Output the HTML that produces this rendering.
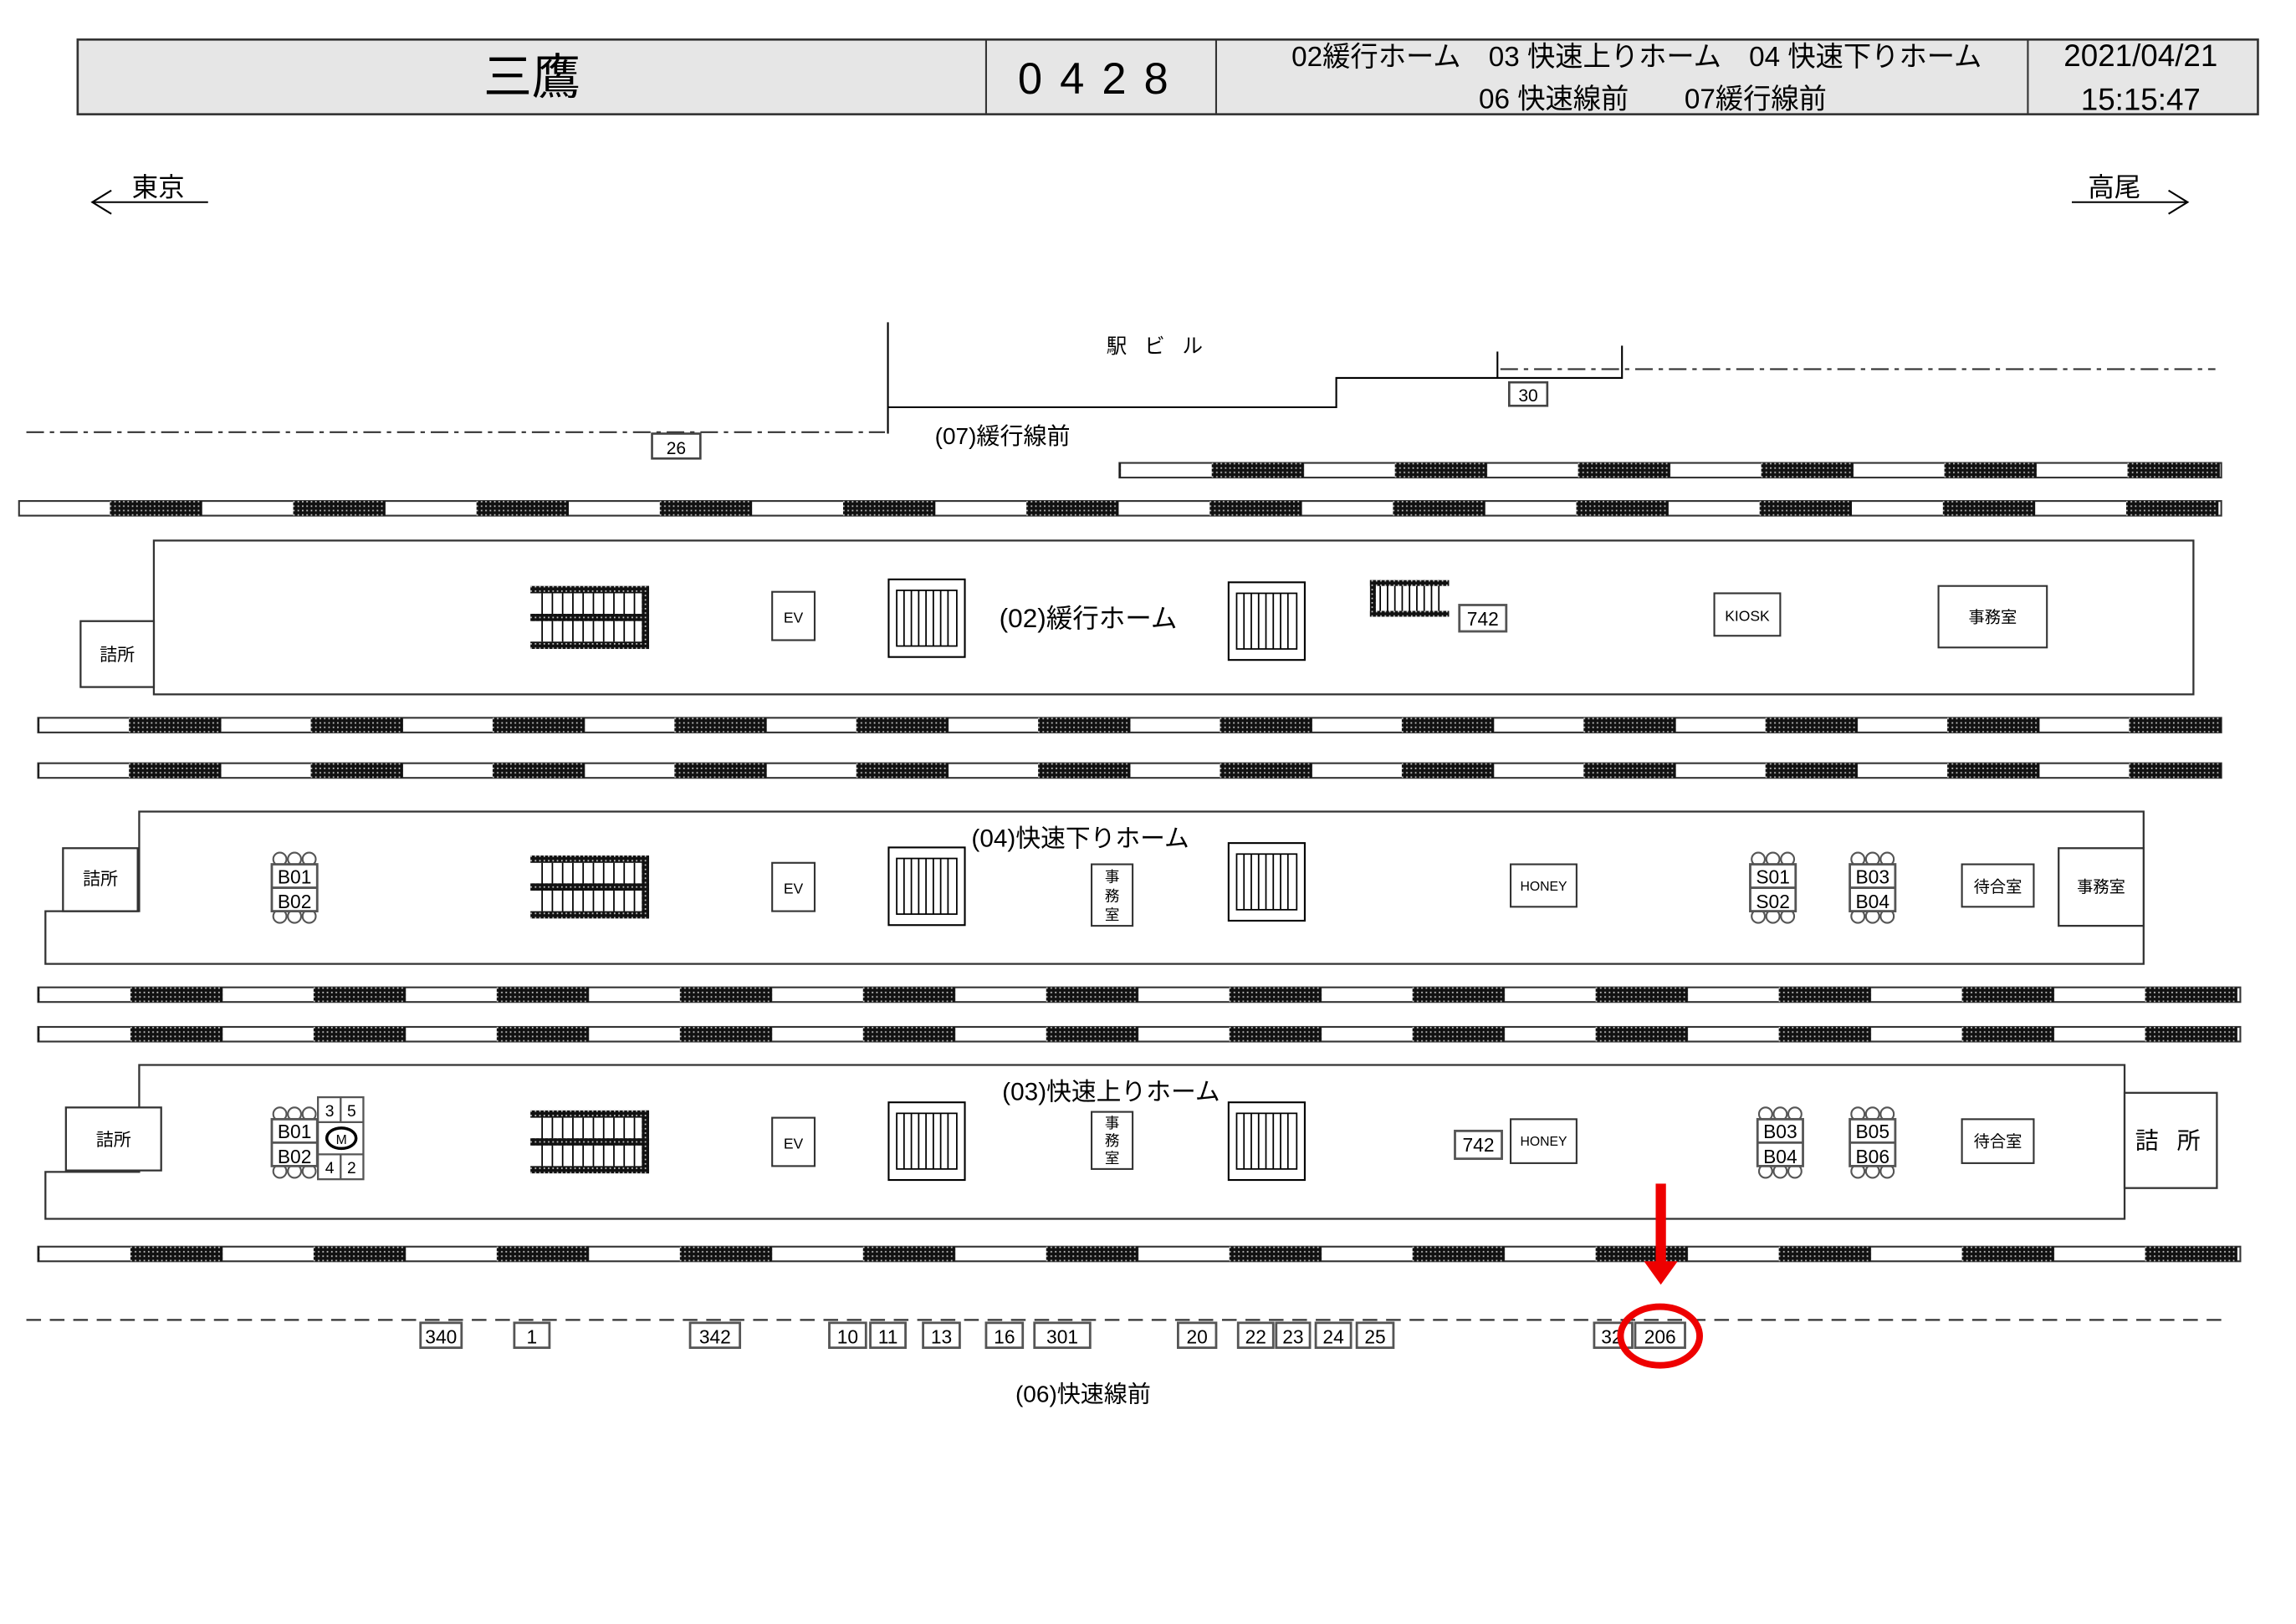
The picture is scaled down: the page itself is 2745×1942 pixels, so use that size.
<!DOCTYPE html>
<html><head><meta charset="utf-8">
<style>
html,body{margin:0;padding:0;background:#fff;}
svg{display:block;}
text{font-family:"Liberation Sans","Noto Sans CJK JP",sans-serif;fill:#000;}
</style></head>
<body>
<svg width="2745" height="1942" viewBox="0 0 1567 1108.6" preserveAspectRatio="none" xmlns="http://www.w3.org/2000/svg">
<defs>
  <pattern id="chk" width="3" height="3" patternUnits="userSpaceOnUse">
    <rect width="3" height="3" fill="#111"/><rect width="1" height="1" fill="#ccc"/>
  </pattern>
  <g id="esc">
    <rect x="0" y="0" width="81" height="43" fill="#fff"/>
    <g stroke="#000" stroke-width="1">
      <line x1="8" y1="5" x2="8" y2="38"/><line x1="15" y1="5" x2="15" y2="38"/><line x1="22" y1="5" x2="22" y2="38"/>
      <line x1="29" y1="5" x2="29" y2="38"/><line x1="36" y1="5" x2="36" y2="38"/><line x1="43" y1="5" x2="43" y2="38"/>
      <line x1="50" y1="5" x2="50" y2="38"/><line x1="57" y1="5" x2="57" y2="38"/><line x1="64" y1="5" x2="64" y2="38"/>
      <line x1="71" y1="5" x2="71" y2="38"/>
    </g>
    <rect x="0" y="0" width="81" height="5" fill="url(#chk)"/>
    <rect x="0" y="19" width="81" height="5" fill="url(#chk)"/>
    <rect x="0" y="38" width="81" height="5" fill="url(#chk)"/>
    <rect x="76" y="0" width="5" height="43" fill="url(#chk)"/>
  </g>
  <g id="stair">
    <rect x="0.5" y="0.5" width="52" height="53" fill="#fff" stroke="#000" stroke-width="1.2"/>
    <rect x="6" y="8" width="41" height="38" fill="#fff" stroke="#000" stroke-width="1"/>
    <g stroke="#000" stroke-width="1">
      <line x1="11" y1="8" x2="11" y2="46"/><line x1="16" y1="8" x2="16" y2="46"/><line x1="21" y1="8" x2="21" y2="46"/>
      <line x1="26" y1="8" x2="26" y2="46"/><line x1="31" y1="8" x2="31" y2="46"/><line x1="36" y1="8" x2="36" y2="46"/>
      <line x1="41" y1="8" x2="41" y2="46"/>
    </g>
  </g>
  <g id="bench" fill="#fff" stroke="#555" stroke-width="1.2">
    <circle cx="6" cy="3.5" r="4.5"/><circle cx="16" cy="3.5" r="4.5"/><circle cx="26" cy="3.5" r="4.5"/>
    <circle cx="6" cy="42.5" r="4.5"/><circle cx="16" cy="42.5" r="4.5"/><circle cx="26" cy="42.5" r="4.5"/>
    <rect x="0.5" y="7" width="31" height="32" stroke-width="1.6"/>
    <line x1="0.5" y1="23" x2="31.5" y2="23" stroke-width="1.6"/>
  </g>
</defs>

<!-- Header -->
<rect x="53" y="27" width="1488" height="51" fill="#e6e6e6" stroke="#333" stroke-width="1.5"/>
<line x1="673" y1="27" x2="673" y2="78" stroke="#333" stroke-width="1.2"/>
<line x1="830" y1="27" x2="830" y2="78" stroke="#333" stroke-width="1.2"/>
<line x1="1384" y1="27" x2="1384" y2="78" stroke="#333" stroke-width="1.2"/>
<text x="363" y="64" font-size="33" text-anchor="middle">三鷹</text>
<text x="752" y="64" font-size="30" text-anchor="middle" letter-spacing="12">0428</text>
<text x="1117" y="45" font-size="19" text-anchor="middle">02緩行ホーム　03 快速上りホーム　04 快速下りホーム</text>
<text x="1128" y="74" font-size="19" text-anchor="middle">06 快速線前　　07緩行線前</text>
<text x="1461" y="45" font-size="21" text-anchor="middle">2021/04/21</text>
<text x="1461" y="75" font-size="21" text-anchor="middle">15:15:47</text>

<!-- Direction arrows -->
<g stroke="#000" stroke-width="1.2" fill="none">
  <line x1="63" y1="138" x2="142" y2="138"/><polyline points="76,130 63,138 76,146"/>
  <line x1="1414" y1="138" x2="1493" y2="138"/><polyline points="1480,130 1493,138 1480,146"/>
</g>
<text x="90" y="134" font-size="18">東京</text>
<text x="1425" y="134" font-size="18">高尾</text>

<!-- Station building -->
<g stroke="#000" stroke-width="1.2" fill="none">
  <polyline points="606,220 606,278 912,278 912,258 1107,258 1107,236"/>
  <line x1="606" y1="278" x2="606" y2="296"/>
  <line x1="1022" y1="240" x2="1022" y2="258"/>
</g>
<text x="790" y="241" font-size="14" text-anchor="middle" letter-spacing="4">駅 ビ ル</text>
<g stroke="#333" stroke-width="1.2" stroke-dasharray="12,4,3,4" fill="none">
  <line x1="18" y1="295" x2="604" y2="295"/>
  <line x1="1024" y1="252" x2="1512" y2="252"/>
</g>
<rect x="445" y="296" width="33" height="17" fill="#fff" stroke="#444" stroke-width="1.5"/>
<text x="461.5" y="310" font-size="12" text-anchor="middle">26</text>
<rect x="1030" y="261" width="26" height="16" fill="#fff" stroke="#444" stroke-width="1.5"/>
<text x="1043" y="274" font-size="12" text-anchor="middle">30</text>
<text x="638" y="303" font-size="16">(07)緩行線前</text>

<!-- Tracks -->
<defs>
  <pattern id="tA" x="827" y="316" width="125" height="10" patternUnits="userSpaceOnUse"><rect width="63" height="10" fill="url(#chk)"/></pattern>
  <pattern id="tB" x="75" y="342" width="125.1" height="10" patternUnits="userSpaceOnUse"><rect width="63" height="10" fill="url(#chk)"/></pattern>
  <pattern id="tC" x="88" y="490" width="124.1" height="10" patternUnits="userSpaceOnUse"><rect width="63" height="10" fill="url(#chk)"/></pattern>
  <pattern id="tD" x="88" y="521" width="124.1" height="10" patternUnits="userSpaceOnUse"><rect width="63" height="10" fill="url(#chk)"/></pattern>
  <pattern id="tE" x="89" y="674" width="125" height="10" patternUnits="userSpaceOnUse"><rect width="63" height="10" fill="url(#chk)"/></pattern>
  <pattern id="tF" x="89" y="701" width="125" height="10" patternUnits="userSpaceOnUse"><rect width="63" height="10" fill="url(#chk)"/></pattern>
  <pattern id="tG" x="89" y="851" width="125" height="10" patternUnits="userSpaceOnUse"><rect width="63" height="10" fill="url(#chk)"/></pattern>
</defs>
<g stroke="#333" stroke-width="1.2">
  <rect x="764" y="316" width="752" height="10" fill="#fff"/><rect x="764" y="316" width="752" height="10" fill="url(#tA)" stroke="none"/>
  <rect x="13" y="342" width="1503" height="10" fill="#fff"/><rect x="13" y="342" width="1503" height="10" fill="url(#tB)" stroke="none"/>
  <rect x="26" y="490" width="1490" height="10" fill="#fff"/><rect x="26" y="490" width="1490" height="10" fill="url(#tC)" stroke="none"/>
  <rect x="26" y="521" width="1490" height="10" fill="#fff"/><rect x="26" y="521" width="1490" height="10" fill="url(#tD)" stroke="none"/>
  <rect x="26" y="674" width="1503" height="10" fill="#fff"/><rect x="26" y="674" width="1503" height="10" fill="url(#tE)" stroke="none"/>
  <rect x="26" y="701" width="1503" height="10" fill="#fff"/><rect x="26" y="701" width="1503" height="10" fill="url(#tF)" stroke="none"/>
  <rect x="26" y="851" width="1503" height="10" fill="#fff"/><rect x="26" y="851" width="1503" height="10" fill="url(#tG)" stroke="none"/>
</g>

<!-- Platform 02 -->
<rect x="105" y="369" width="1392" height="105" fill="#fff" stroke="#333" stroke-width="1.3"/>
<rect x="55" y="424" width="50" height="45" fill="#fff" stroke="#333" stroke-width="1.3"/>
<text x="80" y="451" font-size="12" text-anchor="middle">詰所</text>
<use href="#esc" x="362" y="400"/>
<rect x="527" y="404" width="29" height="33" fill="#fff" stroke="#333" stroke-width="1.2"/>
<text x="541.5" y="425" font-size="10" text-anchor="middle">EV</text>
<use href="#stair" x="606" y="395"/>
<text x="682" y="428" font-size="18">(02)緩行ホーム</text>
<use href="#stair" x="838" y="397"/>
<g>
  <rect x="935" y="396" width="54" height="25" fill="#fff"/>
  <g stroke="#000" stroke-width="1">
    <line x1="942" y1="396" x2="942" y2="421"/><line x1="947" y1="396" x2="947" y2="421"/><line x1="952" y1="396" x2="952" y2="421"/>
    <line x1="957" y1="396" x2="957" y2="421"/><line x1="962" y1="396" x2="962" y2="421"/><line x1="967" y1="396" x2="967" y2="421"/>
    <line x1="972" y1="396" x2="972" y2="421"/><line x1="977" y1="396" x2="977" y2="421"/><line x1="982" y1="396" x2="982" y2="421"/>
  </g>
  <rect x="935" y="396" width="54" height="4" fill="url(#chk)"/>
  <rect x="935" y="417" width="54" height="4" fill="url(#chk)"/>
  <rect x="935" y="396" width="4" height="25" fill="url(#chk)"/>
</g>
<rect x="996" y="413" width="32" height="18" fill="#fff" stroke="#555" stroke-width="1.6"/>
<text x="1012" y="427" font-size="13" text-anchor="middle">742</text>
<rect x="1170" y="405" width="45" height="29" fill="#fff" stroke="#333" stroke-width="1.2"/>
<text x="1192.5" y="424" font-size="10" text-anchor="middle">KIOSK</text>
<rect x="1323" y="400" width="74" height="42" fill="#fff" stroke="#333" stroke-width="1.2"/>
<text x="1360" y="425" font-size="11" text-anchor="middle">事務室</text>

<!-- Platform 04 -->
<path d="M95,554 H1463 V658 H31 V622 H95 Z" fill="#fff" stroke="#333" stroke-width="1.3"/>
<rect x="43" y="579" width="51" height="43" fill="#fff" stroke="#333" stroke-width="1.3"/>
<text x="68.5" y="604" font-size="12" text-anchor="middle">詰所</text>
<rect x="1405" y="579" width="58" height="53" fill="#fff" stroke="#333" stroke-width="1.3"/>
<text x="1434" y="609" font-size="11" text-anchor="middle">事務室</text>
<use href="#bench" x="185" y="583"/>
<text x="201" y="603" font-size="13" text-anchor="middle">B01</text>
<text x="201" y="620" font-size="13" text-anchor="middle">B02</text>
<use href="#esc" x="362" y="584"/>
<rect x="527" y="589" width="29" height="33" fill="#fff" stroke="#333" stroke-width="1.2"/>
<text x="541.5" y="610" font-size="10" text-anchor="middle">EV</text>
<use href="#stair" x="606" y="578"/>
<rect x="745" y="590" width="28" height="42" fill="#fff" stroke="#333" stroke-width="1.2"/>
<text x="759" y="602" font-size="10" text-anchor="middle">事</text>
<text x="759" y="615" font-size="10" text-anchor="middle">務</text>
<text x="759" y="628" font-size="10" text-anchor="middle">室</text>
<use href="#stair" x="838" y="575"/>
<text x="663" y="578" font-size="17">(04)快速下りホーム</text>
<rect x="1031" y="590" width="45" height="29" fill="#fff" stroke="#333" stroke-width="1.2"/>
<text x="1053.5" y="608" font-size="9" text-anchor="middle">HONEY</text>
<use href="#bench" x="1194" y="583"/>
<text x="1210" y="603" font-size="13" text-anchor="middle">S01</text>
<text x="1210" y="620" font-size="13" text-anchor="middle">S02</text>
<use href="#bench" x="1262" y="583"/>
<text x="1278" y="603" font-size="13" text-anchor="middle">B03</text>
<text x="1278" y="620" font-size="13" text-anchor="middle">B04</text>
<rect x="1339" y="590" width="49" height="29" fill="#fff" stroke="#333" stroke-width="1.2"/>
<text x="1363.5" y="609" font-size="11" text-anchor="middle">待合室</text>

<!-- Platform 03 -->
<path d="M95,727 H1450 V832 H31 V800 H95 Z" fill="#fff" stroke="#333" stroke-width="1.3"/>
<rect x="45" y="756" width="65" height="43" fill="#fff" stroke="#333" stroke-width="1.3"/>
<text x="77.5" y="782" font-size="12" text-anchor="middle">詰所</text>
<rect x="1450" y="746" width="63" height="65" fill="#fff" stroke="#333" stroke-width="1.3"/>
<text x="1481.5" y="784" font-size="16" text-anchor="middle" letter-spacing="4">詰 所</text>
<use href="#bench" x="185" y="757"/>
<text x="201" y="777" font-size="13" text-anchor="middle">B01</text>
<text x="201" y="794" font-size="13" text-anchor="middle">B02</text>
<g fill="#fff" stroke="#555" stroke-width="1.3">
  <rect x="217" y="749" width="31" height="56"/>
  <line x1="232.5" y1="749" x2="232.5" y2="766"/>
  <line x1="232.5" y1="788" x2="232.5" y2="805"/>
  <line x1="217" y1="766" x2="248" y2="766"/>
  <line x1="217" y1="788" x2="248" y2="788"/>
</g>
<ellipse cx="233" cy="777" rx="10" ry="7" fill="#fff" stroke="#000" stroke-width="2"/>
<text x="233" y="781" font-size="9" text-anchor="middle">M</text>
<text x="225" y="762" font-size="11" text-anchor="middle">3</text>
<text x="240" y="762" font-size="11" text-anchor="middle">5</text>
<text x="225" y="801" font-size="11" text-anchor="middle">4</text>
<text x="240" y="801" font-size="11" text-anchor="middle">2</text>
<use href="#esc" x="362" y="758"/>
<rect x="527" y="763" width="29" height="33" fill="#fff" stroke="#333" stroke-width="1.2"/>
<text x="541.5" y="784" font-size="10" text-anchor="middle">EV</text>
<use href="#stair" x="606" y="752"/>
<rect x="745" y="759" width="28" height="39" fill="#fff" stroke="#333" stroke-width="1.2"/>
<text x="759" y="770" font-size="10" text-anchor="middle">事</text>
<text x="759" y="782" font-size="10" text-anchor="middle">務</text>
<text x="759" y="794" font-size="10" text-anchor="middle">室</text>
<use href="#stair" x="838" y="752"/>
<text x="684" y="751" font-size="17">(03)快速上りホーム</text>
<rect x="993" y="772" width="32" height="19" fill="#fff" stroke="#555" stroke-width="1.6"/>
<text x="1009" y="786" font-size="13" text-anchor="middle">742</text>
<rect x="1031" y="764" width="45" height="30" fill="#fff" stroke="#333" stroke-width="1.2"/>
<text x="1053.5" y="782" font-size="9" text-anchor="middle">HONEY</text>
<use href="#bench" x="1199" y="757"/>
<text x="1215" y="777" font-size="13" text-anchor="middle">B03</text>
<text x="1215" y="794" font-size="13" text-anchor="middle">B04</text>
<use href="#bench" x="1262" y="757"/>
<text x="1278" y="777" font-size="13" text-anchor="middle">B05</text>
<text x="1278" y="794" font-size="13" text-anchor="middle">B06</text>
<rect x="1339" y="764" width="49" height="30" fill="#fff" stroke="#333" stroke-width="1.2"/>
<text x="1363.5" y="783" font-size="11" text-anchor="middle">待合室</text>

<!-- Bottom line -->
<line x1="18" y1="901" x2="1522" y2="901" stroke="#333" stroke-width="1.3" stroke-dasharray="10,6"/>
<g fill="#fff" stroke="#555" stroke-width="1.6">
  <rect x="287" y="903" width="28" height="17"/>
  <rect x="351" y="903" width="24" height="17"/>
  <rect x="471" y="903" width="34" height="17"/>
  <rect x="566" y="903" width="25" height="17"/>
  <rect x="594" y="903" width="24" height="17"/>
  <rect x="630" y="903" width="25" height="17"/>
  <rect x="673" y="903" width="25" height="17"/>
  <rect x="706" y="903" width="38" height="17"/>
  <rect x="804" y="903" width="26" height="17"/>
  <rect x="845" y="903" width="24" height="17"/>
  <rect x="871" y="903" width="23" height="17"/>
  <rect x="898" y="903" width="24" height="17"/>
  <rect x="926" y="903" width="25" height="17"/>
  <rect x="1088" y="903" width="26" height="17"/>
  <rect x="1116" y="903" width="34" height="17"/>
</g>
<g font-size="13" text-anchor="middle">
  <text x="301" y="917">340</text>
  <text x="363" y="917">1</text>
  <text x="488" y="917">342</text>
  <text x="578.5" y="917">10</text>
  <text x="606" y="917">11</text>
  <text x="642.5" y="917">13</text>
  <text x="685.5" y="917">16</text>
  <text x="725" y="917">301</text>
  <text x="817" y="917">20</text>
  <text x="857" y="917">22</text>
  <text x="882.5" y="917">23</text>
  <text x="910" y="917">24</text>
  <text x="938.5" y="917">25</text>
  <text x="1100" y="917">32</text>
  <text x="1133" y="917">206</text>
</g>
<text x="693" y="957" font-size="16">(06)快速線前</text>

<!-- Red marker -->
<rect x="1130" y="808" width="7" height="54" fill="#e00"/>
<polygon points="1122,861 1145,861 1133.5,877" fill="#e00"/>
<ellipse cx="1133" cy="912" rx="27" ry="20" fill="none" stroke="#e00" stroke-width="4.5"/>
</svg>
</body></html>
